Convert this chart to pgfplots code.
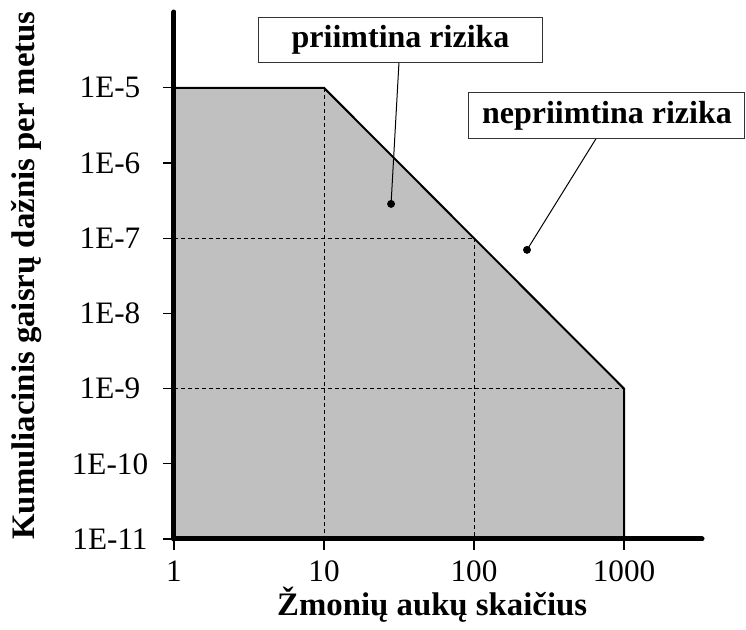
\documentclass[border=0pt]{standalone}
\usepackage{pgfplots}
\pgfplotsset{compat=1.18}
\usepackage{fontspec}
\setmainfont{Liberation Serif}
\definecolor{fillgrey}{HTML}{C0C0C0}

\begin{document}
\begin{tikzpicture}
\begin{axis}[%
width=264pt,
height=263.5pt,
scale only axis,
xmode=log,
ymode=log,
xmin=1,
xmax=3311,
ymin=1e-11,
ymax=1.02e-4,
axis lines=left,
axis line style={-, line width=2.5pt, line cap=round, black},
axis on top,
clip=false,
xtick={1,10,100,1000},
xticklabels={1,10,100,1000},
ytick={1e-11,1e-10,1e-9,1e-8,1e-7,1e-6,1e-5},
yticklabels={1E-11,1E-10,1E-9,1E-8,1E-7,1E-6,1E-5},
xminorticks=false,
yminorticks=false,
tick align=outside,
major tick length=5.5pt,
tick style={black, line width=0.6pt},
tick label style={font=\fontsize{15.6}{18}\selectfont},
yticklabel style={anchor=center, xshift=-26.5pt},
xticklabel style={anchor=center, yshift=-10.5pt, inner sep=1pt},
xlabel={Žmonių aukų skaičius},
ylabel={Kumuliacinis gaisrų dažnis per metus},
label style={font=\fontsize{16.4}{19}\selectfont\bfseries},
xlabel style={at={([yshift=-33pt]rel axis cs:0.489,0)}, anchor=center, inner sep=1pt},
ylabel style={at={([xshift=-73.5pt]rel axis cs:0,0.5)}, anchor=center},
]
% acceptable-risk region
\addplot[fill=fillgrey, draw=none] coordinates {
(1,1e-11) (1,1e-5) (10,1e-5) (1000,1e-9) (1000,1e-11)
} -- cycle;
% dashed guide lines
\addplot[black, line width=0.5pt, dash pattern=on 2pt off 1.5pt] coordinates {(10,1e-5) (10,1e-11)};
\addplot[black, line width=0.5pt, dash pattern=on 2pt off 1.5pt] coordinates {(100,1e-7) (100,1e-11)};
\addplot[black, line width=0.5pt, dash pattern=on 2pt off 1.5pt] coordinates {(1,1e-7) (100,1e-7)};
\addplot[black, line width=0.5pt, dash pattern=on 2pt off 1.5pt] coordinates {(1,1e-9) (1000,1e-9)};
% boundary
\addplot[black, line width=1pt] coordinates {(1,1e-5) (10,1e-5) (1000,1e-9) (1000,1e-11)};
% callout leaders
\addplot[black, line width=0.5pt] coordinates {(31.6,2.15e-5) (28.0,2.86e-7)};
\addplot[black, line width=0.5pt] coordinates {(650,2.1e-6) (225.6,7.0e-8)};
\addplot[only marks, mark=*, mark size=1.75pt, black] coordinates {(28.0,2.86e-7) (225.6,7.0e-8)};
% callout boxes
\node[draw=black!80, line width=0.5pt, fill=white, minimum width=142pt, minimum height=22.5pt, inner sep=0pt,
  font=\fontsize{16}{19}\selectfont\bfseries] at (axis cs:32.4,4.29e-5) {priimtina rizika};
\node[draw=black!80, line width=0.5pt, fill=white, minimum width=138pt, minimum height=23pt, inner sep=0pt,
  font=\fontsize{16}{19}\selectfont\bfseries] at (axis cs:770,4.25e-6) {nepriimtina rizika};
\coordinate (bbsw) at (rel axis cs:0,0);
\end{axis}
\pgfresetboundingbox
\path[use as bounding box] ([shift={(-87pt,-45.5pt)}]bbsw) rectangle ([shift={(286pt,269.5pt)}]bbsw);
\end{tikzpicture}
\end{document}
